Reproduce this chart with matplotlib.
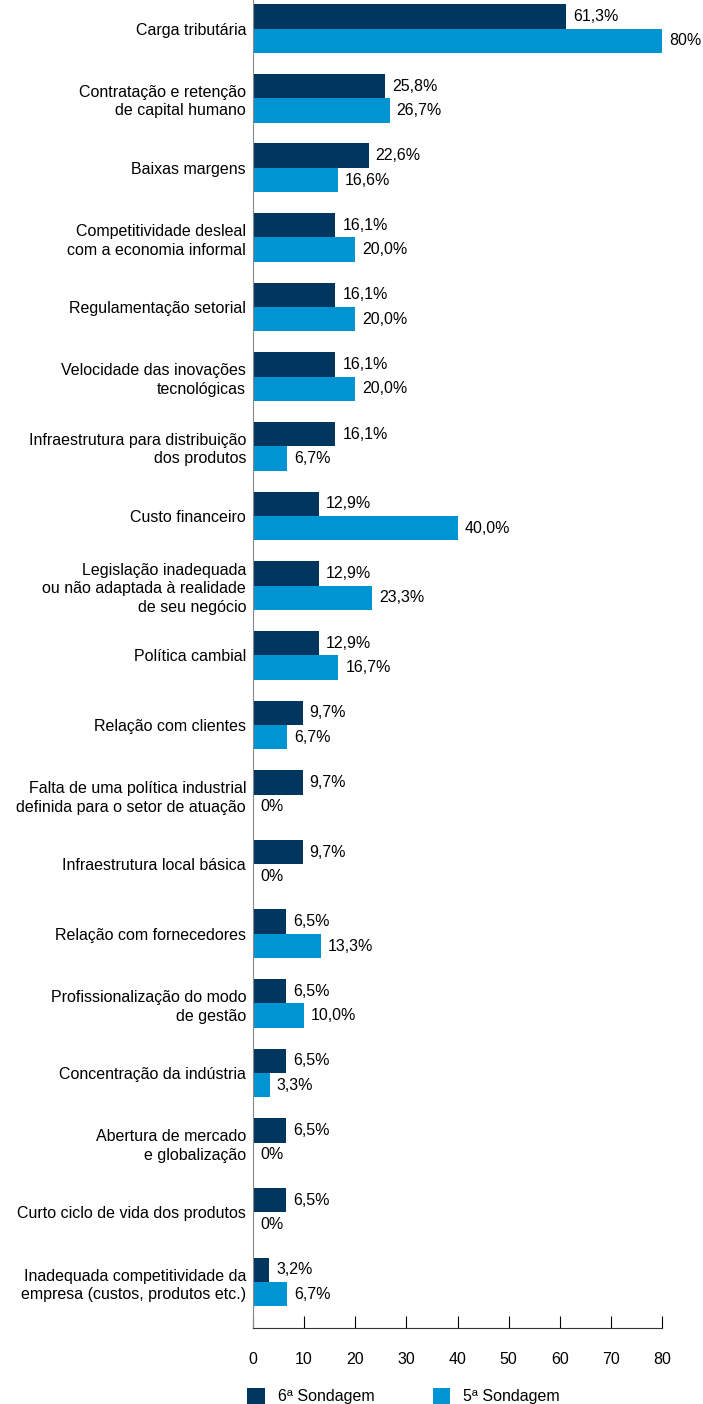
import matplotlib.pyplot as plt
import numpy as np

plt.rcParams['font.family'] = ['Liberation Sans', 'DejaVu Sans']

categorias = [
    "Carga tributária",
    "Contratação e retenção\nde capital humano",
    "Baixas margens",
    "Competitividade desleal\ncom a economia informal",
    "Regulamentação setorial",
    "Velocidade das inovações\ntecnológicas",
    "Infraestrutura para distribuição\ndos produtos",
    "Custo financeiro",
    "Legislação inadequada\nou não adaptada à realidade\nde seu negócio",
    "Política cambial",
    "Relação com clientes",
    "Falta de uma política industrial\ndefinida para o setor de atuação",
    "Infraestrutura local básica",
    "Relação com fornecedores",
    "Profissionalização do modo\nde gestão",
    "Concentração da indústria",
    "Abertura de mercado\ne globalização",
    "Curto ciclo de vida dos produtos",
    "Inadequada competitividade da\nempresa (custos, produtos etc.)",
]
sond6 = [61.3, 25.8, 22.6, 16.1, 16.1, 16.1, 16.1, 12.9, 12.9, 12.9,
         9.7, 9.7, 9.7, 6.5, 6.5, 6.5, 6.5, 6.5, 3.2]
sond5 = [80, 26.7, 16.6, 20.0, 20.0, 20.0, 6.7, 40.0, 23.3, 16.7,
         6.7, 0, 0, 13.3, 10.0, 3.3, 0, 0, 6.7]
rot6 = ["61,3%", "25,8%", "22,6%", "16,1%", "16,1%", "16,1%", "16,1%",
        "12,9%", "12,9%", "12,9%", "9,7%", "9,7%", "9,7%", "6,5%", "6,5%",
        "6,5%", "6,5%", "6,5%", "3,2%"]
rot5 = ["80%", "26,7%", "16,6%", "20,0%", "20,0%", "20,0%", "6,7%",
        "40,0%", "23,3%", "16,7%", "6,7%", "0%", "0%", "13,3%", "10,0%",
        "3,3%", "0%", "0%", "6,7%"]

cor6 = '#00365F'
cor5 = '#0094D3'
fs = 11.5

fig = plt.figure(figsize=(7.03, 14.04), dpi=100)
ax = fig.add_axes([253/703, 76/1404, 409/703, 1328/1404])

y = np.arange(len(categorias))
h = 0.35
ax.barh(y - h/2, sond6, height=h, color=cor6, label='6ª Sondagem')
ax.barh(y + h/2, sond5, height=h, color=cor5, label='5ª Sondagem')

for i in range(len(categorias)):
    ax.annotate(rot6[i], (sond6[i], y[i] - h/2), xytext=(5, 0),
                textcoords='offset points', va='center', ha='left', fontsize=fs)
    ax.annotate(rot5[i], (sond5[i], y[i] + h/2), xytext=(5, 0),
                textcoords='offset points', va='center', ha='left', fontsize=fs)

ax.set_yticks(y)
ax.set_yticklabels(categorias, fontsize=fs, linespacing=1.3)
ax.tick_params(axis='y', length=0, pad=5)
ax.set_ylim(18.66, -0.41)
ax.set_xlim(0, 80)
ax.set_xticks(range(0, 81, 10))
ax.tick_params(axis='x', direction='in', length=9, pad=17, labelsize=fs)

ax.spines['top'].set_visible(False)
ax.spines['right'].set_visible(False)
ax.spines['left'].set_color('#888888')
ax.spines['bottom'].set_color('#333333')

fig.legend(loc='lower left', bbox_to_anchor=(233/703, -0.0105), ncol=2,
           frameon=False, fontsize=fs, handlelength=1.1, handleheight=1.1,
           columnspacing=3.65, handletextpad=0.8)

fig.savefig('out.png', dpi=100)
